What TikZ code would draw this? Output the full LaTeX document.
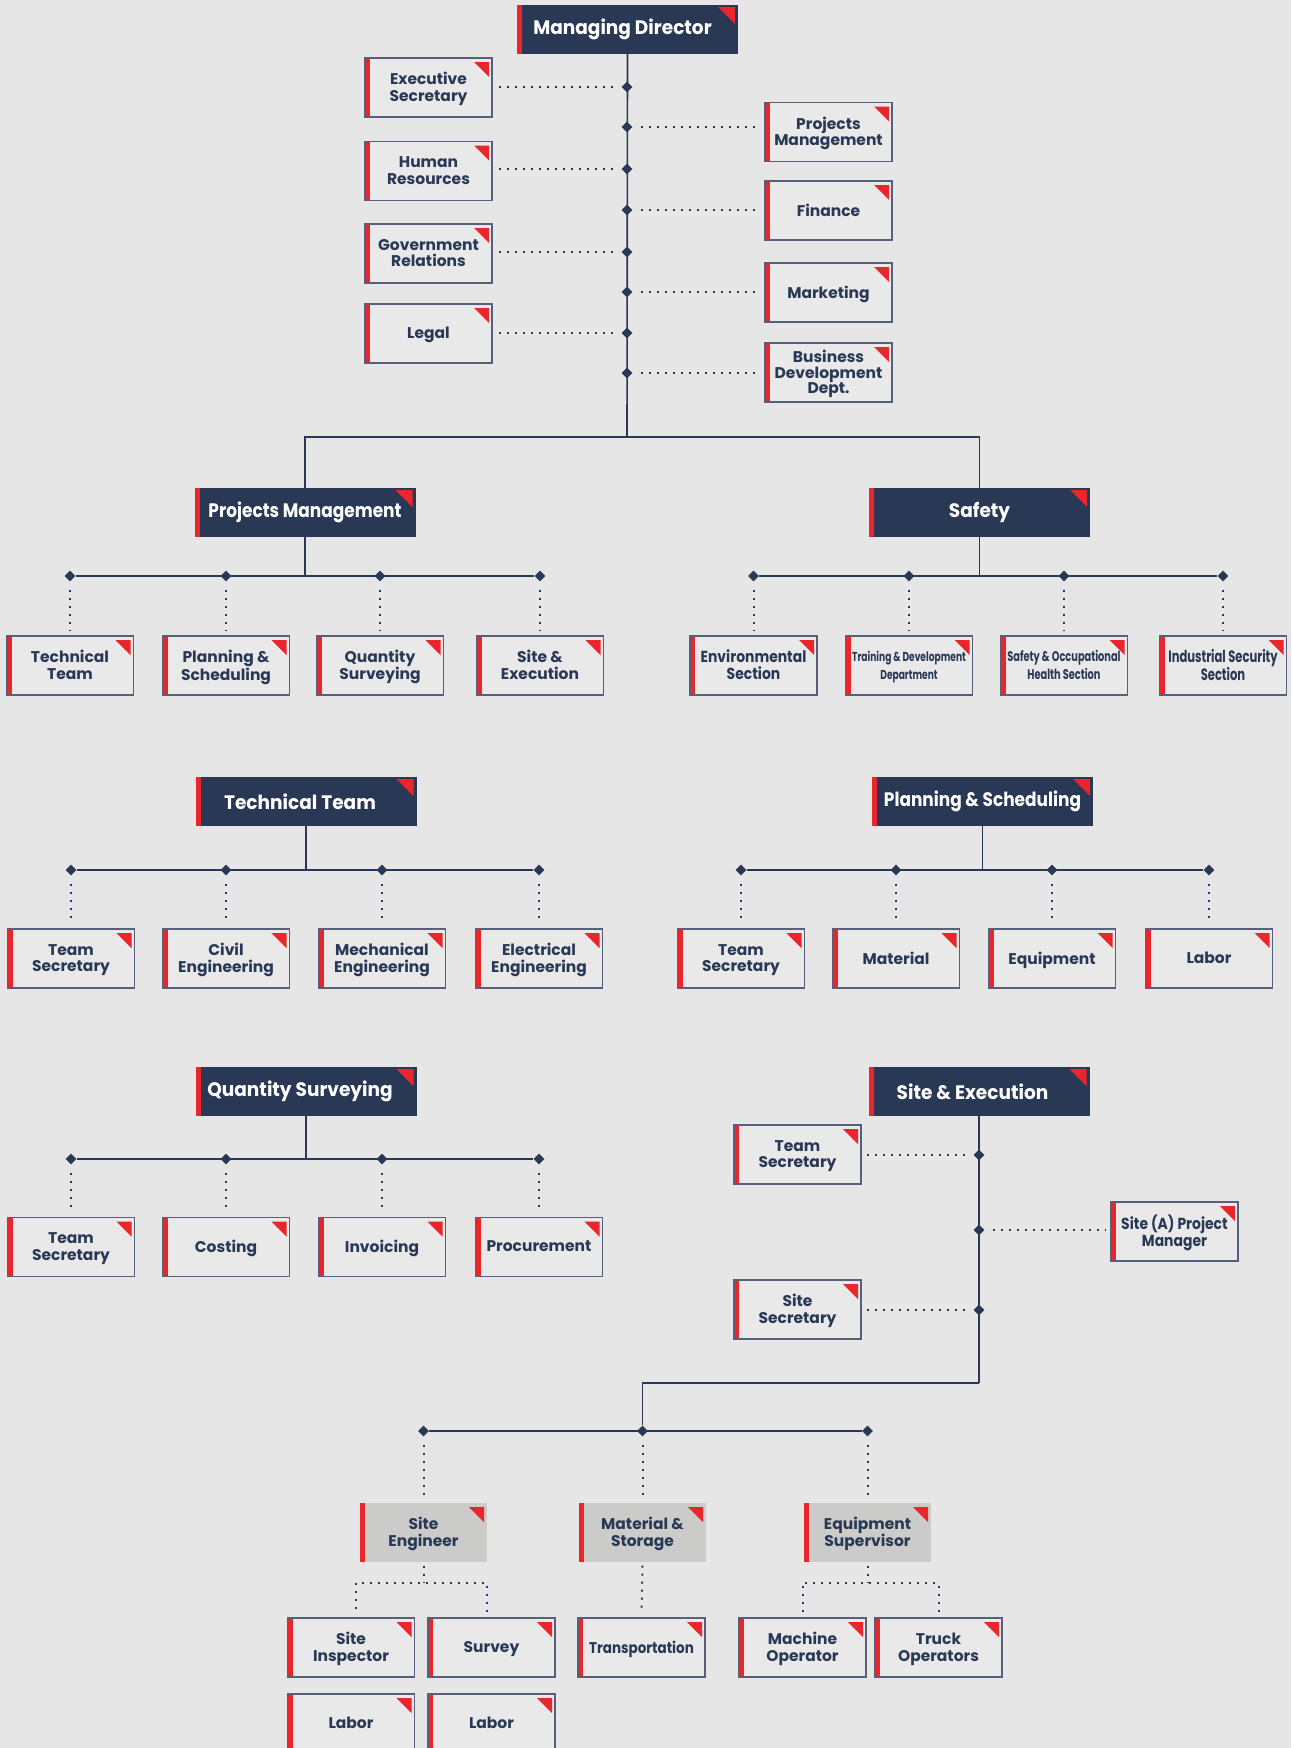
\documentclass[tikz,border=0pt]{standalone}
\usepackage{fontspec}
\setmainfont{Poppins}
\newfontfamily\headface{Poppins}[FakeStretch=0.95]
\newfontfamily\narrowface{Poppins}[FakeStretch=0.87]
\newfontfamily\slimface{Poppins}[FakeStretch=0.7]
\usetikzlibrary{shapes.geometric}
\definecolor{navy}{HTML}{293855}
\definecolor{accent}{HTML}{E8262B}
\definecolor{paper}{HTML}{E6E6E6}
\definecolor{cardfill}{HTML}{E9E9E9}
\definecolor{rim}{HTML}{56607A}
\definecolor{stone}{HTML}{CBCBC9}
\tikzset{
  every picture/.style={x=1pt, y=-1pt, line join=miter}}

\begin{document}
\begin{tikzpicture}[
    headbox/.style={
      rectangle, fill=navy, text=white,
      minimum width=221pt, minimum height=49pt, inner sep=0pt,
      font={\headface\fontsize{19.5}{20}\selectfont\bfseries},
      path picture={
        \fill[accent] (path picture bounding box.south west)
          rectangle ([xshift=5pt]path picture bounding box.north west);
        \fill[accent] ([xshift=-3pt,yshift=-2pt]path picture bounding box.north east)
          -- ++(-17pt,0pt) -- ++(17pt,-17pt) -- cycle;}},
    unitbox/.style={
      rectangle, draw=rim, line width=1.2pt, fill=cardfill, text=navy,
      minimum width=127pt, minimum height=59pt, inner sep=0pt, align=center,
      text depth=1pt, font={\fontsize{15.5}{16.5}\selectfont\bfseries},
      path picture={
        \fill[accent] (path picture bounding box.south west)
          rectangle ([xshift=5pt]path picture bounding box.north west);
        \fill[accent] ([xshift=-3pt,yshift=-4pt]path picture bounding box.north east)
          -- ++(-15pt,0pt) -- ++(15pt,-15pt) -- cycle;}},
    subbox/.style={unitbox, draw=none, fill=stone},
    narrowtext/.style={font={\narrowface\fontsize{15.5}{16.5}\selectfont\bfseries}},
    joint/.style={diamond, fill=navy, inner sep=0pt, minimum size=11pt},
    link/.style={navy, line width=1.6pt},
    dots/.style={navy, line width=2pt, dash pattern=on 2pt off 6pt,
      shorten <=8pt, shorten >=5pt}]

    \useasboundingbox[fill=paper] (0,0) rectangle (1291,1748);

    % board
    \node[headbox] (md) at (627.5,29.5) {Managing Director\hspace*{10pt}};

    \node[unitbox] (exec)  at (428.5,87.5)  {Executive\\Secretary};
    \node[unitbox] (hr)    at (428.5,171)   {Human\\Resources};
    \node[unitbox] (gov)   at (428.5,253.5) {Government\\Relations};
    \node[unitbox] (legal) at (428.5,333.5) {Legal};
    \node[unitbox] (pmo)   at (828.5,132)   {Projects\\Management};
    \node[unitbox] (fin)   at (828.5,210.5) {Finance};
    \node[unitbox] (mkt)   at (828.5,292.5) {Marketing};
    \node[unitbox, font={\fontsize{15.5}{15.5}\selectfont\bfseries}] (bd) at (828.5,372.5) {Business\\Development\\Dept.};

    \coordinate (split) at (627,437);
    \draw[link] (md.south) -- (split);

    \node[joint] (md1) at (627,87)  {};
    \node[joint] (md2) at (627,127) {};
    \node[joint] (md3) at (627,169) {};
    \node[joint] (md4) at (627,210) {};
    \node[joint] (md5) at (627,252) {};
    \node[joint] (md6) at (627,292) {};
    \node[joint] (md7) at (627,333) {};
    \node[joint] (md8) at (627,373) {};

    \draw[dots] (md1) -- (md1 -| exec.east);
    \draw[dots] (md3) -- (md3 -| hr.east);
    \draw[dots] (md5) -- (md5 -| gov.east);
    \draw[dots] (md7) -- (md7 -| legal.east);
    \draw[dots] (md2) -- (md2 -| pmo.west);
    \draw[dots] (md4) -- (md4 -| fin.west);
    \draw[dots] (md6) -- (md6 -| mkt.west);
    \draw[dots] (md8) -- (md8 -| bd.west);

    % departments
    \node[headbox, font={\narrowface\fontsize{19.5}{20}\selectfont\bfseries}] (pm) at (305,512.5) {Projects Management};
    \node[headbox] (safety) at (979.5,512.5) {Safety};
    \draw[link] (split) -| (pm.north);
    \draw[link] (split) -| (safety.north);

    \node[unitbox] (tt) at (70,665.5)  {Technical\\Team};
    \node[unitbox] (ps) at (226,665.5) {Planning \&\\Scheduling};
    \node[unitbox] (qs) at (380,665.5) {Quantity\\Surveying};
    \node[unitbox] (se) at (540,665.5) {Site \&\\Execution};

    \node[joint] (pm1) at (70,576)  {};
    \node[joint] (pm2) at (226,576) {};
    \node[joint] (pm3) at (380,576) {};
    \node[joint] (pm4) at (540,576) {};
    \draw[link] (pm1) -- (pm4);
    \draw[link] (pm.south) -- (pm.south |- pm1);
    \draw[dots] (pm1) -- (tt.north);
    \draw[dots] (pm2) -- (ps.north);
    \draw[dots] (pm3) -- (qs.north);
    \draw[dots] (pm4) -- (se.north);

    \node[unitbox, font={\narrowface\fontsize{16}{17}\selectfont\bfseries}] (env) at (753.5,665.5) {Environmental\\Section};
    \node[unitbox, font={\slimface\fontsize{13}{18}\selectfont\bfseries}] (train) at (909,665.5) {Training \& Development\\Department};
    \node[unitbox, font={\slimface\fontsize{14}{18}\selectfont\bfseries}] (ohs) at (1064,665.5) {Safety \& Occupational\\Health Section};
    \node[unitbox, font={\slimface\fontsize{16.5}{17.5}\selectfont\bfseries}] (sec) at (1223,665.5) {Industrial Security\\Section};

    \node[joint] (sf1) at (753.5,576) {};
    \node[joint] (sf2) at (909,576)   {};
    \node[joint] (sf3) at (1064,576)  {};
    \node[joint] (sf4) at (1223,576)  {};
    \draw[link] (sf1) -- (sf4);
    \draw[link] (safety.south) -- (safety.south |- sf1);
    \draw[dots] (sf1) -- (env.north);
    \draw[dots] (sf2) -- (train.north);
    \draw[dots] (sf3) -- (ohs.north);
    \draw[dots] (sf4) -- (sec.north);

    % technical team
    \node[headbox] (tech) at (306,801.5) {Technical Team\hspace*{12pt}};
    \node[unitbox] (tech-sec)  at (71,958.5)  {Team\\Secretary};
    \node[unitbox] (civil)     at (226,958.5) {Civil\\Engineering};
    \node[unitbox] (mech)      at (382,958.5) {Mechanical\\Engineering};
    \node[unitbox] (elec)      at (539,958.5) {Electrical\\Engineering};

    \node[joint] (tc1) at (71,870)  {};
    \node[joint] (tc2) at (226,870) {};
    \node[joint] (tc3) at (382,870) {};
    \node[joint] (tc4) at (539,870) {};
    \draw[link] (tc1) -- (tc4);
    \draw[link] (tech.south) -- (tech.south |- tc1);
    \draw[dots] (tc1) -- (tech-sec.north);
    \draw[dots] (tc2) -- (civil.north);
    \draw[dots] (tc3) -- (mech.north);
    \draw[dots] (tc4) -- (elec.north);

    % planning & scheduling
    \node[headbox, font={\narrowface\fontsize{19.5}{20}\selectfont\bfseries}] (plan) at (982.5,801.5) {Planning \& Scheduling};
    \node[unitbox] (plan-sec) at (741,958.5)  {Team\\Secretary};
    \node[unitbox] (mat)      at (896,958.5)  {Material};
    \node[unitbox] (equ)      at (1052,958.5) {Equipment};
    \node[unitbox] (lab)      at (1209,958.5) {Labor};

    \node[joint] (pl1) at (741,870)  {};
    \node[joint] (pl2) at (896,870)  {};
    \node[joint] (pl3) at (1052,870) {};
    \node[joint] (pl4) at (1209,870) {};
    \draw[link] (pl1) -- (pl4);
    \draw[link] (plan.south) -- (plan.south |- pl1);
    \draw[dots] (pl1) -- (plan-sec.north);
    \draw[dots] (pl2) -- (mat.north);
    \draw[dots] (pl3) -- (equ.north);
    \draw[dots] (pl4) -- (lab.north);

    % quantity surveying
    \node[headbox] (qty) at (306,1091.5) {Quantity Surveying\hspace*{12pt}};
    \node[unitbox] (qty-sec) at (71,1247)  {Team\\Secretary};
    \node[unitbox] (cost)    at (226,1247) {Costing};
    \node[unitbox] (inv)     at (382,1247) {Invoicing};
    \node[unitbox] (proc)    at (539,1247) {Procurement};

    \node[joint] (qy1) at (71,1159)  {};
    \node[joint] (qy2) at (226,1159) {};
    \node[joint] (qy3) at (382,1159) {};
    \node[joint] (qy4) at (539,1159) {};
    \draw[link] (qy1) -- (qy4);
    \draw[link] (qty.south) -- (qty.south |- qy1);
    \draw[dots] (qy1) -- (qty-sec.north);
    \draw[dots] (qy2) -- (cost.north);
    \draw[dots] (qy3) -- (inv.north);
    \draw[dots] (qy4) -- (proc.north);

    % site & execution
    \node[headbox] (site) at (979,1091.5) {Site \& Execution\hspace*{13pt}};
    \node[unitbox] (site-tsec) at (797.5,1154.5)  {Team\\Secretary};
    \node[unitbox, font={\narrowface\fontsize{16}{17}\selectfont\bfseries}] (site-pm) at (1174.5,1231.5) {Site (A) Project\\Manager};
    \node[unitbox] (site-ssec) at (797.5,1309.5)  {Site\\Secretary};

    \coordinate (bend) at (979,1383);
    \draw[link] (site.south) -- (bend);
    \node[joint] (st1) at (979,1155) {};
    \node[joint] (st2) at (979,1230) {};
    \node[joint] (st3) at (979,1310) {};
    \draw[dots] (st1) -- (st1 -| site-tsec.east);
    \draw[dots] (st2) -- (st2 -| site-pm.west);
    \draw[dots] (st3) -- (st3 -| site-ssec.east);

    \node[joint] (fd1) at (423.5,1431) {};
    \node[joint] (fd2) at (642.5,1431) {};
    \node[joint] (fd3) at (867.5,1431) {};
    \draw[link] (bend) -| (fd2);
    \draw[link] (fd1) -- (fd3);

    \node[subbox] (eng)   at (423.5,1532.5) {Site\\Engineer};
    \node[subbox] (store) at (642.5,1532.5) {Material \&\\Storage};
    \node[subbox] (sup)   at (867.5,1532.5) {Equipment\\Supervisor};
    \draw[dots] (fd1) -- (eng.north);
    \draw[dots] (fd2) -- (store.north);
    \draw[dots] (fd3) -- (sup.north);

    \node[unitbox] (insp)    at (351,1647.5)   {Site\\Inspector};
    \node[unitbox] (survey)  at (491.5,1647.5) {Survey};
    \node[unitbox, narrowtext] (trans) at (641.5,1647.5) {Transportation};
    \node[unitbox] (machine) at (802.5,1647.5) {Machine\\Operator};
    \node[unitbox] (truck)   at (938.5,1647.5) {Truck\\Operators};
    \node[unitbox] (labor1)  at (351,1723.5)   {Labor};
    \node[unitbox] (labor2)  at (491.5,1723.5) {Labor};

    \coordinate (engfork) at (423.5,1583);
    \coordinate (engL) at (356,1583);
    \coordinate (engR) at (486.5,1583);
    \coordinate (supfork) at (867.5,1583);
    \draw[dots, shorten <=3pt, shorten >=0pt] (eng.south) -- (engfork);
    \draw[dots] (insp.north -| engL) -- (engL) -- (engR) -- (survey.north -| engR);
    \draw[dots, shorten <=3pt] (store.south) -- (trans.north);
    \draw[dots, shorten <=3pt, shorten >=0pt] (sup.south) -- (supfork);
    \draw[dots, shorten <=5pt] (machine.north) |- (supfork -| truck.north) -- (truck.north);
\end{tikzpicture}
\end{document}
